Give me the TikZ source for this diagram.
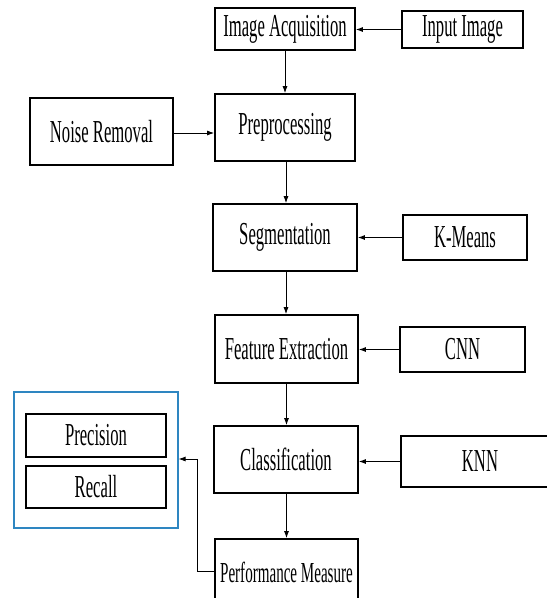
\documentclass[tikz,border=0pt]{standalone}
\usepackage{fontspec}
\setmainfont{Liberation Serif}[FakeStretch=0.52]
\usetikzlibrary{arrows.meta}
\definecolor{frameblue}{RGB}{46,134,193}
\tikzset{
  box/.style={draw=black, line width=1.8pt, rectangle, inner sep=0pt, font=\fontsize{32}{34}\selectfont},
  arr/.style={line width=0.8pt, -{Latex[length=7pt,width=5pt]}},
}
\begin{document}
\begin{tikzpicture}[x=1pt,y=-1pt]
\clip (0,0) rectangle (547,598);
\fill[white] (0,0) rectangle (547,598);
% main column
\node[box, minimum width=140pt, minimum height=42pt] (acq) at (285,29) {Image Acquisition};
\node[box, minimum width=140pt, minimum height=67pt] (pre) at (285,127.5) {Preprocessing};
\node[box, minimum width=144pt, minimum height=67pt] (seg) at (285,237.5) {Segmentation};
\node[box, minimum width=143pt, minimum height=68pt] (fe) at (286.5,349) {Feature Extraction};
\node[box, minimum width=144pt, minimum height=67pt] (cls) at (286,459.5) {Classification};
\node[box, minimum width=143pt, minimum height=67pt, font=\fontsize{29}{31}\selectfont] (pm) at (286.5,572.5) {Performance Measure};
% side inputs
\node[box, minimum width=121pt, minimum height=37pt] (inp) at (462.5,29.5) {Input Image};
\node[box, minimum width=143pt, minimum height=67pt] (noise) at (101.5,131.5) {Noise Removal};
\node[box, minimum width=124pt, minimum height=45pt] (km) at (465,237.5) {K-Means};
\node[box, minimum width=125pt, minimum height=45pt] (cnn) at (462.5,349.5) {CNN};
\node[box, minimum width=158pt, minimum height=51pt] (knn) at (480,461.5) {KNN};
% metrics
\node[draw=frameblue, line width=1.2pt, rectangle, minimum width=164pt, minimum height=136pt] (metrics) at (96,460) {};
\node[box, minimum width=140pt, minimum height=43pt] (prec) at (96,435.5) {Precision};
\node[box, minimum width=140pt, minimum height=42pt] (rec) at (96,487) {Recall};
% connectors
\draw[arr] (inp.west) -- (acq.east |- inp.west);
\draw[arr] (acq.south -| 285,0) -- (pre.north -| 285,0);
\draw[arr] (noise.east |- 0,133) -- (pre.west |- 0,133);
\draw[arr] (pre.south -| 286,0) -- (seg.north -| 286,0);
\draw[arr] (km.west) -- (seg.east |- km.west);
\draw[arr] (seg.south -| 286,0) -- (fe.north -| 286,0);
\draw[arr] (cnn.west) -- (fe.east |- cnn.west);
\draw[arr] (fe.south -| 286.5,0) -- (cls.north -| 286.5,0);
\draw[arr] (knn.west) -- (cls.east |- knn.west);
\draw[arr] (cls.south -| 286.5,0) -- (pm.north -| 286.5,0);
\coordinate (bend1) at (197,571);
\coordinate (bend2) at (197,459);
\draw[arr] (pm.west |- bend1) -- (bend1) -- (bend2) -- (metrics.east |- bend2);
\end{tikzpicture}
\end{document}
